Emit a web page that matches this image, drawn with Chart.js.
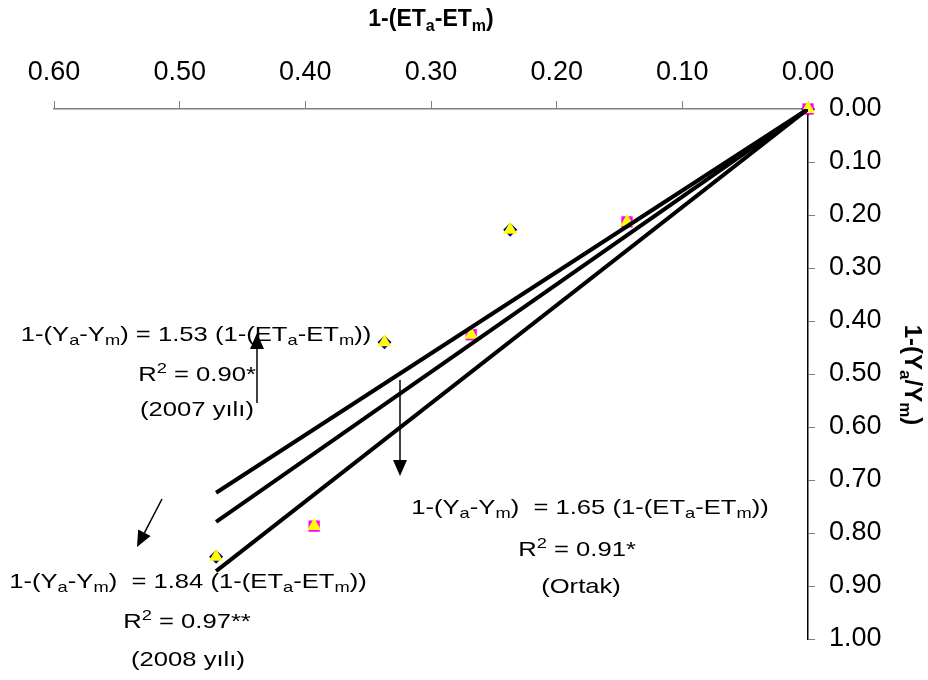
<!DOCTYPE html>
<html>
<head>
<meta charset="utf-8">
<script src="https://cdn.jsdelivr.net/npm/chart.js@4.4.1/dist/chart.umd.min.js"></script>
<style>
  html, body { margin: 0; padding: 0; background: #fff; }
  #chart { display: block; }
</style>
</head>
<body>
<canvas id="chart" width="928" height="680"></canvas>
<script>
// Values: x = 1-(ETa-ETm), y = 1-(Ya/Ym)
const et2007 = [0.000, 0.237, 0.337, 0.471];
const yield2007 = [0.000, 0.228, 0.440, 0.845];
const et2008 = [0.000, 0.144, 0.268, 0.393];
const yield2008 = [0.000, 0.213, 0.426, 0.787];

// fitted lines through the origin (end points)
const fitX = [0, 0.471];
const fit2007 = [0, 0.724];
const fitOrtak = [0, 0.779];
const fit2008 = [0, 0.872];

const FONT = '"Liberation Sans", Arial, sans-serif';

const pts = (xs, ys) => xs.map((x, i) => ({ x, y: ys[i] }));
const ortakPts = pts(et2007, yield2007).concat(pts(et2008, yield2008));

function fitLine(ys) {
  return {
    type: "line",
    data: pts(fitX, ys),
    borderColor: "#000",
    borderWidth: 4,
    pointRadius: 0,
    fill: false,
    order: -1
  };
}

// text with sub/superscripts, centred at cx (sx = horizontal stretch)
function drawRich(ctx, parts, cx, cy, size, bold, sx) {
  const b = bold ? "bold " : "";
  const big = b + size + "px " + FONT;
  const small = b + Math.round(size * 0.7) + "px " + FONT;
  let w = 0;
  parts.forEach(p => { ctx.font = p[1] ? small : big; w += ctx.measureText(p[0]).width; });
  ctx.save();
  ctx.translate(cx, cy);
  ctx.scale(sx || 1, 1);
  let x = -w / 2;
  ctx.textAlign = "left";
  ctx.textBaseline = "middle";
  parts.forEach(p => {
    ctx.font = p[1] ? small : big;
    let dy = 0;
    if (p[1] === "sub") dy = size * 0.3;
    if (p[1] === "sup") dy = -size * 0.3;
    ctx.fillText(p[0], x, dy);
    x += ctx.measureText(p[0]).width;
  });
  ctx.restore();
}

function eq(coef, gap) {
  return [["1-(Y"], ["a", "sub"], ["-Y"], ["m", "sub"], [")" + gap + "= " + coef + " (1-(ET"],
    ["a", "sub"], ["-ET"], ["m", "sub"], ["))"]];
}

function arrow(ctx, x1, y1, x2, y2) {
  const a = Math.atan2(y2 - y1, x2 - x1);
  const len = 16, hw = 7;
  ctx.strokeStyle = "#000";
  ctx.fillStyle = "#000";
  ctx.lineWidth = 1.5;
  ctx.beginPath();
  ctx.moveTo(x1, y1);
  ctx.lineTo(x2 - Math.cos(a) * len, y2 - Math.sin(a) * len);
  ctx.stroke();
  ctx.beginPath();
  ctx.moveTo(x2, y2);
  ctx.lineTo(x2 - Math.cos(a) * len - Math.sin(a) * hw, y2 - Math.sin(a) * len + Math.cos(a) * hw);
  ctx.lineTo(x2 - Math.cos(a) * len + Math.sin(a) * hw, y2 - Math.sin(a) * len - Math.cos(a) * hw);
  ctx.closePath();
  ctx.fill();
}

const notes = {
  id: "notes",
  afterDraw(chart) {
    const ctx = chart.ctx;
    ctx.save();
    ctx.fillStyle = "#000";

    // axis titles
    drawRich(ctx, [["1-(ET"], ["a", "sub"], ["-ET"], ["m", "sub"], [")"]], 431, 20, 23, true);
    ctx.save();
    ctx.translate(912, 375);
    ctx.rotate(Math.PI / 2);
    drawRich(ctx, [["1-(Y"], ["a", "sub"], ["/Y"], ["m", "sub"], [")"]], 0, 0, 24, true);
    ctx.restore();

    const S = 1.22;
    // 2007
    drawRich(ctx, eq("1.53", " "), 196, 335, 21, false, S);
    drawRich(ctx, [["R"], ["2", "sup"], [" = 0.90*"]], 197, 375, 21, false, S);
    drawRich(ctx, [["(2007 yılı)"]], 197, 410, 21, false, S);
    // Ortak
    drawRich(ctx, eq("1.65", "  "), 590, 508, 21, false, S);
    drawRich(ctx, [["R"], ["2", "sup"], [" = 0.91*"]], 577, 550, 21, false, S);
    drawRich(ctx, [["(Ortak)"]], 581, 587, 21, false, S);
    // 2008
    drawRich(ctx, eq("1.84", "  "), 188, 582, 21, false, S);
    drawRich(ctx, [["R"], ["2", "sup"], [" = 0.97**"]], 187, 622, 21, false, S);
    drawRich(ctx, [["(2008 yılı)"]], 188, 660, 21, false, S);

    arrow(ctx, 257, 403, 257, 333);
    arrow(ctx, 400, 380, 400, 476);
    arrow(ctx, 162, 499, 137, 547);
    ctx.restore();
  }
};

new Chart(document.getElementById("chart"), {
  type: "scatter",
  data: {
    datasets: [
      fitLine(fit2007),
      fitLine(fitOrtak),
      fitLine(fit2008),
      {
        label: "Ortak",
        data: ortakPts,
        pointStyle: "triangle",
        pointRadius: 8,
        backgroundColor: "#ffff00",
        borderColor: "#ffff00",
        borderWidth: 0,
        clip: false,
        order: 0
      },
      {
        label: "2008",
        data: pts(et2008, yield2008),
        pointStyle: "rect",
        pointRadius: 8,
        backgroundColor: "#ff00ff",
        borderColor: "#ff00ff",
        borderWidth: 0,
        clip: false,
        order: 1
      },
      {
        label: "2007",
        data: pts(et2007, yield2007),
        pointStyle: "rectRot",
        pointRadius: 7,
        backgroundColor: "#000080",
        borderColor: "#000080",
        borderWidth: 0,
        clip: false,
        order: 2
      }
    ]
  },
  options: {
    responsive: false,
    animation: false,
    layout: { padding: { left: 54, right: 0, top: 0, bottom: 41 } },
    plugins: {
      legend: { display: false },
      tooltip: { enabled: false }
    },
    scales: {
      x: {
        type: "linear",
        position: "top",
        reverse: true,
        min: 0,
        max: 0.6,
        afterFit: s => { s.height = 109; },
        border: { display: true, color: "#808080", width: 1.5 },
        grid: { drawOnChartArea: false, drawTicks: true, tickLength: 8, color: "#808080" },
        ticks: {
          stepSize: 0.1,
          padding: 12,
          color: "#000",
          font: { family: FONT, size: 27 },
          callback: v => v.toFixed(2)
        }
      },
      y: {
        type: "linear",
        position: "right",
        reverse: true,
        min: 0,
        max: 1,
        afterFit: s => { s.width = 120; },
        border: { display: true, color: "#000", width: 1.5 },
        grid: { drawOnChartArea: false, drawTicks: true, tickLength: 7, color: "#808080" },
        ticks: {
          stepSize: 0.1,
          padding: 14,
          color: "#000",
          font: { family: FONT, size: 27 },
          callback: v => v.toFixed(2)
        }
      }
    }
  },
  plugins: [notes]
});
</script>
</body>
</html>
